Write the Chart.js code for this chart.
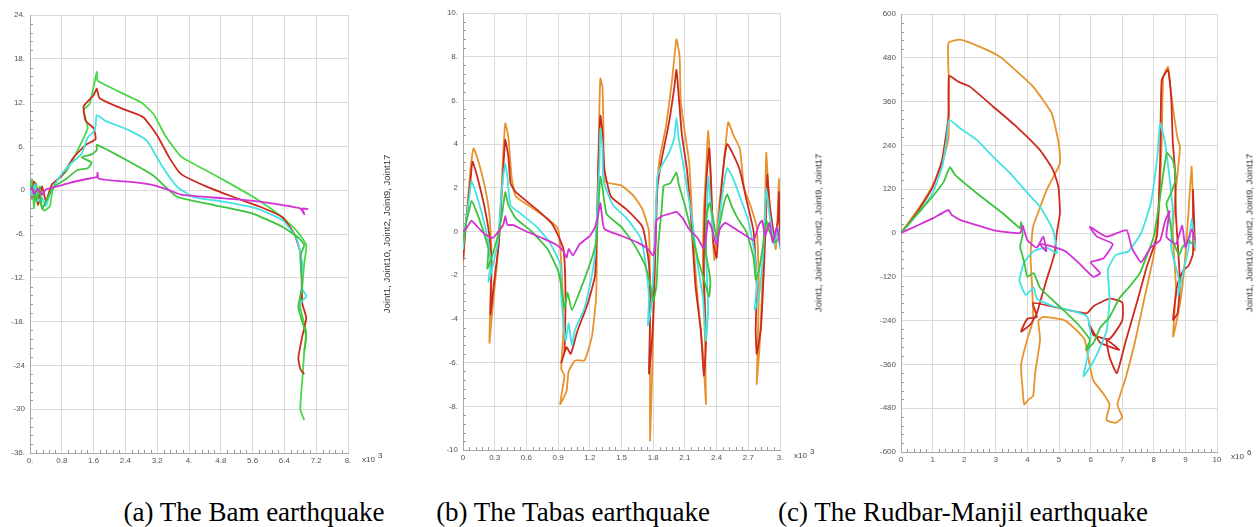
<!DOCTYPE html>
<html>
<head>
<meta charset="utf-8">
<script src="https://cdn.jsdelivr.net/npm/chart.js@4.4.0/dist/chart.umd.min.js"></script>
<style>
body{margin:0;background:#fff;width:1260px;height:527px;overflow:hidden;position:relative;font-family:"Liberation Sans",Arial,sans-serif}
canvas{position:absolute;top:0}
.ytitle{position:absolute;font-size:9.5px;color:#333;white-space:nowrap;transform:translate(-50%,-50%) rotate(-90deg)}
.mult{position:absolute;font-size:8px;color:#444;white-space:nowrap}
.mult sup{position:relative;top:-4px;left:3px;font-size:8px;vertical-align:top}
.cap{position:absolute;top:496px;line-height:32px;font-family:"Liberation Serif","Times New Roman",serif;font-size:27px;color:#000;white-space:nowrap;transform:translateX(-50%)}
</style>
</head>
<body>
<canvas id="bam" width="420" height="475" style="left:0"></canvas>
<canvas id="tabas" width="420" height="475" style="left:420px"></canvas>
<canvas id="rudbar" width="400" height="475" style="left:860px"></canvas>

<div class="ytitle" style="left:386px;top:234px">Joint1, Joint10, Joint2, Joint9, Joint17</div>
<div class="ytitle" style="left:818px;top:233px">Joint1, Joint10, Joint2, Joint9, Joint17</div>
<div class="ytitle" style="left:1249px;top:233px">Joint1, Joint10, Joint2, Joint9, Joint17</div>

<div class="mult" style="left:362px;top:455px">x10<sup>3</sup></div>
<div class="mult" style="left:794px;top:451px">x10<sup>3</sup></div>
<div class="mult" style="left:1231px;top:452px">x10<sup>6</sup></div>

<div class="cap" style="left:254px">(a) The Bam earthquake</div>
<div class="cap" style="left:573px">(b) The Tabas earthquake</div>
<div class="cap" style="left:963px">(c) The Rudbar-Manjil earthquake</div>

<script>
const jointNames = ['Joint1', 'Joint10', 'Joint2', 'Joint9', 'Joint17'];

// (a) Bam
const bamXTicks = [0, 0.8, 1.6, 2.4, 3.2, 4, 4.8, 5.6, 6.4, 7.2, 8];
const bamXLabels = ['0.', '0.8', '1.6', '2.4', '3.2', '4.', '4.8', '5.6', '6.4', '7.2', '8.'];
const bamYTicks = [-36, -30, -24, -18, -12, -6, 0, 6, 12, 18, 24];
const bamYLabels = ['-36.', '-30', '-24', '-18.', '-12.', '-6.', '0', '6.', '12.', '18.', '24.'];

const bamJoint1 = [[0,0],[0.05,1.5],[0.1,-2.5],[0.15,1],[0.25,-1.5],[0.35,-2.8],[0.5,-2.2],[0.55,-0.5],[0.65,1.2],[0.9,2.5],[1.2,5.5],[1.45,8.5],[1.35,11],[1.5,11.8],[1.68,16.2],[1.7,15.0],[2.2,13.6],[2.8,12],[3.1,10.5],[3.4,7.5],[3.8,4.6],[4.4,2.8],[5.0,1.0],[5.7,-1.2],[6.3,-3.5],[6.7,-5.5],[6.95,-7.5],[6.9,-10],[6.85,-13],[6.8,-16],[6.95,-19.5],[6.9,-22],[6.85,-26],[6.8,-30],[6.9,-31.5]];
const bamJoint10 = [[0,0],[0.05,-1],[0.1,1.2],[0.2,-2],[0.3,0.5],[0.4,-1.5],[0.55,0.8],[0.8,2],[1.1,4.5],[1.4,6.2],[1.65,7],[1.6,8.5],[1.4,9.5],[1.35,11.5],[1.6,13],[1.68,13.9],[1.75,12.6],[2.3,11.2],[2.85,10.0],[3.2,7.5],[3.5,4.5],[3.8,2.2],[4.4,0.6],[5.1,-0.9],[5.8,-2.3],[6.35,-3.7],[6.65,-6.0],[6.8,-8.5],[6.83,-11],[6.85,-15.5],[6.95,-17.5],[6.85,-20],[6.75,-23],[6.8,-24.5],[6.9,-25.2]];
const bamJoint2 = [[0,0],[0.05,-0.8],[0.12,0.8],[0.2,-1.5],[0.3,-1],[0.4,-2.2],[0.5,-0.5],[0.7,1.5],[1.0,3.5],[1.3,5],[1.45,7.2],[1.6,8],[1.65,8.8],[1.68,10.3],[1.9,9.5],[2.5,8.2],[2.94,6.8],[3.3,3.5],[3.7,0.5],[4.1,-0.9],[4.9,-1.6],[5.7,-2.5],[6.35,-4.1],[6.7,-6.5],[6.85,-10],[6.85,-13.5],[6.95,-14.5],[6.8,-15.5],[6.75,-16.5]];
const bamJoint9 = [[0,0],[0.05,0.5],[0.15,-1.5],[0.25,0.5],[0.3,-2.5],[0.45,-1],[0.6,0.5],[0.9,1.5],[1.2,2.8],[1.45,3],[1.55,3.8],[1.3,4.5],[1.55,4.9],[1.68,5.5],[1.68,6.2],[2.4,4.2],[3.1,2.0],[3.7,-0.9],[4.6,-2.0],[5.6,-3.2],[6.35,-5.0],[6.75,-6.5],[6.9,-7.5],[6.8,-9],[6.85,-13],[6.75,-16],[6.85,-18],[6.95,-20],[6.9,-22]];
const bamJoint17 = [[0,0],[0.05,0.3],[0.1,-0.5],[0.2,0.2],[0.3,-0.6],[0.4,0.1],[0.6,0.4],[1.0,1.0],[1.4,1.5],[1.68,1.8],[1.7,2.4],[1.72,1.6],[2.1,1.3],[2.6,1.1],[3.1,0.7],[3.5,0],[3.8,-0.6],[4.6,-1.0],[5.5,-1.4],[6.2,-1.9],[6.8,-2.5],[6.9,-3.3],[6.85,-2.5],[7.0,-2.6]];

// (b) Tabas
const tabasXTicks = [0, 0.3, 0.6, 0.9, 1.2, 1.5, 1.8, 2.1, 2.4, 2.7, 3];
const tabasXLabels = ['0', '0.3', '0.6', '0.9', '1.2', '1.5', '1.8', '2.1', '2.4', '2.7', '3.'];
const tabasYTicks = [-10, -8, -6, -4, -2, 0, 2, 4, 6, 8, 10];
const tabasYLabels = ['-10', '-8.', '-6.', '-4', '-2', '0', '2', '4', '6.', '8.', '10.'];

const tabasJoint1 = [[0,-1.5],[0.03,0.5],[0.07,2.8],[0.1,3.8],[0.14,3.3],[0.2,2.2],[0.25,0.8],[0.27,-1],[0.26,-3],[0.25,-5.1],[0.28,-3.5],[0.33,-1],[0.36,1.5],[0.38,3.5],[0.4,4.95],[0.43,4.3],[0.46,2.5],[0.5,1.6],[0.65,1.1],[0.8,0.6],[0.9,0.1],[0.93,-1.5],[0.95,-4.5],[0.93,-6.3],[0.96,-6.6],[0.92,-7.9],[0.98,-7.3],[1.0,-6.4],[1.06,-5.9],[1.15,-5.9],[1.22,-4.8],[1.26,-3],[1.27,0],[1.28,3],[1.29,5.5],[1.30,7.0],[1.32,6.6],[1.33,4.5],[1.34,2.3],[1.5,2.1],[1.62,1.6],[1.7,1.0],[1.76,0],[1.77,-3],[1.77,-6.5],[1.77,-9.6],[1.79,-6.5],[1.80,-4.5],[1.81,-1.5],[1.83,1.5],[1.86,3.3],[1.92,4.8],[1.98,7],[2.02,8.8],[2.05,8.0],[2.06,6],[2.1,4.5],[2.14,3.2],[2.16,1.5],[2.18,-0.5],[2.22,-3],[2.27,-5.5],[2.3,-7.9],[2.29,-5],[2.27,-1.5],[2.28,1],[2.3,2.8],[2.32,4.6],[2.34,3],[2.36,0],[2.38,-1.3],[2.42,1],[2.47,3.2],[2.51,5.0],[2.56,4.4],[2.62,3.8],[2.66,2],[2.72,1.2],[2.78,0.2],[2.8,-2.5],[2.79,-5],[2.78,-7.0],[2.81,-5],[2.84,-1.5],[2.86,1.5],[2.87,3.6],[2.89,2],[2.93,0],[2.96,-0.8],[2.98,1],[2.99,2.4],[3.0,-0.5]];
const tabasJoint10 = [[0,-1.3],[0.03,0.5],[0.07,2.3],[0.09,3.2],[0.13,2.6],[0.2,1.2],[0.25,-0.2],[0.27,-1.5],[0.26,-3.8],[0.29,-2.5],[0.34,-0.5],[0.37,2],[0.39,3.6],[0.4,4.2],[0.43,3.4],[0.45,2.2],[0.5,1.8],[0.7,1.0],[0.85,0.3],[0.95,-0.8],[0.97,-3],[0.96,-5.5],[0.93,-6.0],[0.98,-5.3],[1.02,-5.6],[1.08,-4.6],[1.18,-3.3],[1.25,-2],[1.27,1],[1.28,3],[1.30,5.3],[1.32,4.5],[1.34,2.8],[1.4,1.6],[1.55,1.0],[1.7,0.2],[1.76,-1.5],[1.77,-4],[1.76,-6.5],[1.78,-5.5],[1.80,-4],[1.82,-1],[1.84,2],[1.88,3.3],[1.95,5],[2.0,6.6],[2.02,7.4],[2.04,6.3],[2.07,4.5],[2.12,2.8],[2.16,0.5],[2.2,-2.5],[2.25,-4.5],[2.28,-6.6],[2.3,-5],[2.28,-2],[2.29,1],[2.31,2.8],[2.33,3.8],[2.35,2],[2.37,-0.5],[2.4,-1.2],[2.43,1],[2.47,3.2],[2.5,4.0],[2.55,3.6],[2.62,2.8],[2.68,1.5],[2.75,0],[2.78,-2.5],[2.77,-4.5],[2.78,-5.6],[2.82,-4.4],[2.85,-1.5],[2.87,1],[2.88,2.6],[2.9,1.3],[2.95,-0.3],[2.98,0.5],[2.99,1.8],[3.0,-0.5]];
const tabasJoint2 = [[0,-0.8],[0.03,0.5],[0.06,1.6],[0.08,2.3],[0.12,1.8],[0.18,0.8],[0.24,-0.5],[0.26,-1.5],[0.24,-2.3],[0.27,-1.8],[0.33,-0.5],[0.36,1.5],[0.38,2.5],[0.4,3.1],[0.42,2.5],[0.45,1.2],[0.55,0.8],[0.7,0.2],[0.82,-0.5],[0.92,-1.5],[0.93,-3],[0.97,-5],[1.0,-4.2],[1.03,-5.2],[1.06,-4.5],[1.15,-3.5],[1.22,-2],[1.25,-1],[1.27,1],[1.29,3],[1.3,4.7],[1.32,3.8],[1.33,2.3],[1.42,1.2],[1.55,0.6],[1.68,-0.3],[1.73,-1.5],[1.76,-3],[1.75,-4.3],[1.78,-3.5],[1.8,-2],[1.82,0],[1.84,2.5],[1.88,3.0],[1.95,3.6],[2.0,4.3],[2.02,5.2],[2.04,4.3],[2.08,3.2],[2.12,2.0],[2.17,0.5],[2.22,-1.5],[2.27,-3],[2.3,-5.0],[2.32,-3.5],[2.3,-1],[2.31,1.2],[2.32,2.5],[2.34,1.5],[2.37,-0.2],[2.4,-0.5],[2.43,0.8],[2.47,2.2],[2.5,2.9],[2.55,2.5],[2.62,1.6],[2.7,0.5],[2.76,-1],[2.78,-2.5],[2.76,-3.6],[2.8,-3.0],[2.84,-1],[2.86,0.8],[2.87,2.0],[2.9,0.8],[2.95,-0.6],[2.98,0.2],[3.0,-0.8]];
const tabasJoint9 = [[0,-0.5],[0.03,0.4],[0.06,1.0],[0.08,1.4],[0.12,1.0],[0.18,0.2],[0.24,-0.8],[0.23,-1.7],[0.27,-1.2],[0.33,-0.2],[0.37,0.8],[0.4,1.8],[0.43,1.2],[0.5,0.6],[0.65,0],[0.8,-0.8],[0.9,-1.8],[0.93,-2.5],[0.96,-3.5],[0.99,-2.8],[1.03,-3.6],[1.1,-2.8],[1.2,-1.5],[1.26,-0.5],[1.28,1],[1.3,2.5],[1.32,2.0],[1.36,0.8],[1.5,0.2],[1.62,-0.6],[1.72,-1.5],[1.78,-2.6],[1.8,-3.2],[1.83,-2.5],[1.85,-0.5],[1.88,1.0],[1.9,2.1],[1.96,2.2],[2.02,2.7],[2.04,2.2],[2.1,1.2],[2.16,0],[2.22,-1.2],[2.28,-2.2],[2.33,-3.0],[2.34,-2.2],[2.3,-1],[2.3,0.5],[2.33,1.3],[2.36,0.8],[2.4,-0.3],[2.44,0.6],[2.47,1.3],[2.5,1.7],[2.54,1.2],[2.6,0.6],[2.68,0],[2.75,-1.2],[2.77,-2.2],[2.8,-1.8],[2.84,-0.6],[2.87,0.5],[2.9,0],[2.96,-0.5],[3.0,-0.2]];
const tabasJoint17 = [[0,0],[0.04,0.2],[0.08,0.5],[0.12,0.3],[0.2,-0.1],[0.28,-0.3],[0.32,-0.1],[0.38,0.3],[0.4,0.7],[0.42,0.3],[0.47,0.3],[0.6,0],[0.75,-0.3],[0.88,-0.6],[0.95,-0.9],[0.98,-1.2],[1.0,-0.8],[1.04,-1.1],[1.1,-0.6],[1.2,-0.2],[1.25,0.2],[1.28,0.8],[1.3,1.3],[1.32,0.5],[1.34,0.1],[1.5,-0.2],[1.65,-0.5],[1.75,-0.8],[1.8,-1.1],[1.82,-0.6],[1.83,0.5],[1.88,0.7],[1.95,0.8],[2.02,0.9],[2.08,0.6],[2.14,0.1],[2.22,-0.3],[2.28,-0.8],[2.3,-0.2],[2.32,0.5],[2.35,0.2],[2.4,-0.6],[2.43,0.1],[2.48,0.4],[2.55,0.2],[2.65,-0.1],[2.75,-0.4],[2.8,0.3],[2.83,0.5],[2.86,-0.2],[2.9,0.4],[2.93,-0.5],[2.97,0.2],[3.0,-0.6]];

// (c) Rudbar-Manjil
const rudbarXTicks = [0, 1, 2, 3, 4, 5, 6, 7, 8, 9, 10];
const rudbarXLabels = ['0', '1', '2', '3', '4', '5', '6', '7', '8', '9', '10'];
const rudbarYTicks = [-600, -480, -360, -240, -120, 0, 120, 240, 360, 480, 600];
const rudbarYLabels = ['-600', '-480', '-360', '-240', '-120', '0', '120', '240', '360', '480', '600'];

const rudbarJoint1 = [[0,0],[0.5,60],[1.0,130],[1.3,190],[1.5,260],[1.52,400],[1.5,520],[1.87,530],[2.5,510],[3.13,483],[3.7,440],[4.18,401],[4.77,328],[5.0,240],[5.03,191],[4.8,150],[4.61,118],[4.4,70],[4.18,17],[4.1,-60],[4.15,-150],[4.18,-238],[4.0,-290],[3.8,-360],[3.85,-430],[3.9,-470],[4.05,-455],[4.18,-447],[4.25,-380],[4.4,-293],[4.35,-240],[4.5,-230],[5.2,-240],[5.8,-290],[5.9,-330],[6.08,-403],[6.4,-440],[6.6,-470],[6.5,-512],[6.8,-520],[7.0,-505],[6.85,-470],[7.1,-400],[7.4,-300],[7.7,-180],[8.0,-60],[8.15,50],[8.25,250],[8.3,428],[8.45,455],[8.55,380],[8.75,260],[8.83,236],[8.7,120],[8.6,0],[8.7,-150],[8.61,-284],[8.75,-230],[8.87,-170],[9.0,-60],[9.1,60],[9.2,182],[9.25,50],[9.3,-50]];
const rudbarJoint10 = [[0,0],[0.5,55],[1.0,125],[1.3,200],[1.5,320],[1.52,430],[1.8,415],[2.18,401],[2.92,346],[3.66,291],[4.4,227],[4.81,173],[4.98,127],[5.03,54],[4.93,0],[4.85,-60],[4.6,-130],[4.4,-190],[4.3,-220],[4.1,-250],[3.8,-270],[4.0,-235],[4.3,-230],[4.18,-192],[5.03,-206],[5.88,-220],[6.1,-200],[6.6,-180],[7.0,-190],[7.0,-240],[6.6,-290],[6.1,-280],[5.95,-250],[6.3,-300],[6.9,-320],[6.51,-293],[6.6,-340],[6.83,-384],[7.1,-300],[7.5,-180],[7.78,-92],[8.1,-8],[8.2,200],[8.25,419],[8.45,447],[8.55,374],[8.6,250],[8.67,173],[8.7,50],[8.83,-138],[8.75,-220],[8.61,-238],[8.75,-140],[8.95,-100],[9.1,-90],[9.24,-56],[9.24,118],[9.3,-30]];
const rudbarJoint2 = [[0,0],[0.5,50],[1.0,110],[1.3,180],[1.45,260],[1.52,310],[1.9,285],[2.4,255],[2.9,210],[3.45,164],[4.0,110],[4.4,72],[4.81,8],[4.93,-55],[4.6,-40],[4.2,-50],[3.9,-80],[3.75,-130],[3.95,-170],[4.2,-150],[4.3,-180],[4.8,-200],[5.5,-215],[5.9,-230],[6.0,-280],[5.9,-340],[5.77,-394],[6.1,-350],[6.5,-270],[6.6,-180],[6.55,-100],[6.8,-60],[7.2,-50],[7.6,0],[7.9,80],[8.1,200],[8.2,300],[8.35,250],[8.5,150],[8.6,60],[8.55,-40],[8.8,-130],[8.77,-170],[8.95,-100],[9.1,-40],[9.2,40],[9.3,-40]];
const rudbarJoint9 = [[0,0],[0.5,50],[1.0,100],[1.35,140],[1.55,180],[1.7,160],[2.4,109],[3.22,54],[3.77,13],[3.8,30],[3.85,-5],[3.77,-37],[3.9,-80],[4.0,-120],[4.2,-110],[4.4,-150],[5.0,-200],[5.6,-250],[5.98,-293],[5.85,-320],[6.1,-300],[6.3,-260],[6.6,-230],[6.9,-180],[7.2,-150],[7.56,-110],[8.0,-9],[8.2,100],[8.41,219],[8.6,200],[8.7,150],[8.55,110],[8.4,80],[8.5,40],[8.6,-20],[8.8,-60],[8.9,-40],[9.1,-20],[9.2,-30]];
const rudbarJoint17 = [[0,0],[0.5,20],[1.0,40],[1.5,63],[1.6,50],[1.87,36],[2.92,8],[3.77,0],[3.85,20],[4.0,-20],[4.3,-40],[4.5,-10],[4.6,-50],[4.4,-30],[4.9,-40],[5.2,-50],[5.6,-80],[6.08,-120],[6.3,-110],[6.0,-80],[6.4,-70],[6.7,-30],[6.2,-10],[5.98,17],[6.5,-10],[7.14,8],[7.3,-40],[7.6,-80],[7.9,-40],[8.2,-20],[8.35,30],[8.5,60],[8.4,-10],[8.7,-30],[8.9,20],[9.0,-40],[9.2,10],[9.3,-20]];

const colorsBam = ['#48d848', '#cc2a1e', '#44e2e2', '#3cc43c', '#d431d4'];
const colorsOther = ['#e8922c', '#cc2a1e', '#44e2e2', '#3cc43c', '#d431d4'];

// small minor ticks along the left and bottom axes
const minorTicks = {
	id: 'minorTicks',
	afterDraw(chart) {
		const {ctx, chartArea: a, scales: {x, y}} = chart;
		ctx.save();
		ctx.strokeStyle = '#9a9a9a';
		ctx.lineWidth = 1;
		ctx.beginPath();
		for (let i = 0; i < x.ticks.length - 1; i++) {
			const p0 = x.getPixelForValue(x.ticks[i].value);
			const p1 = x.getPixelForValue(x.ticks[i + 1].value);
			for (let k = 1; k < 5; k++) {
				const p = Math.round(p0 + (p1 - p0) * k / 5) + 0.5;
				ctx.moveTo(p, a.bottom);
				ctx.lineTo(p, a.bottom - 3);
			}
		}
		for (let i = 0; i < y.ticks.length - 1; i++) {
			const p0 = y.getPixelForValue(y.ticks[i].value);
			const p1 = y.getPixelForValue(y.ticks[i + 1].value);
			for (let k = 1; k < 5; k++) {
				const p = Math.round(p0 + (p1 - p0) * k / 5) + 0.5;
				ctx.moveTo(a.left, p);
				ctx.lineTo(a.left + 3, p);
			}
		}
		ctx.stroke();
		ctx.restore();
	}
};

function makePanel(id, series, colors, xTicks, xLabels, yTicks, yLabels, box) {
	const datasets = series.map((pts, i) => ({
		label: jointNames[i],
		data: pts.map(p => ({x: p[0], y: p[1]})),
		showLine: true,
		borderColor: colors[i],
		borderWidth: 1.8,
		pointRadius: 0,
		tension: 0.15,
		fill: false,
		order: 4 - i
	}));
	return new Chart(document.getElementById(id), {
		type: 'scatter',
		data: {datasets},
		options: {
			responsive: false,
			animation: false,
			layout: {padding: {top: box.top, right: box.right, left: 0, bottom: 0}},
			plugins: {legend: {display: false}, tooltip: {enabled: false}},
			scales: {
				x: {
					type: 'linear',
					min: xTicks[0],
					max: xTicks[xTicks.length - 1],
					afterBuildTicks: s => { s.ticks = xTicks.map(v => ({value: v})); },
					afterFit: s => { s.height = box.xh; },
					ticks: {
						callback: (v, i) => xLabels[i],
						autoSkip: false,
						maxRotation: 0,
						padding: 3,
						color: '#555',
						font: {size: 8, family: 'Liberation Sans'}
					},
					grid: {color: '#dadada', drawTicks: false},
					border: {color: '#a8a8a8'}
				},
				y: {
					type: 'linear',
					min: yTicks[0],
					max: yTicks[yTicks.length - 1],
					afterBuildTicks: s => { s.ticks = yTicks.map(v => ({value: v})); },
					afterFit: s => { s.width = box.yw; },
					ticks: {
						callback: (v, i) => yLabels[i],
						autoSkip: false,
						padding: 5,
						color: '#555',
						font: {size: 8, family: 'Liberation Sans'}
					},
					grid: {color: '#dadada', drawTicks: false},
					border: {color: '#a8a8a8'}
				}
			}
		},
		plugins: [minorTicks]
	});
}

makePanel('bam', [bamJoint1, bamJoint10, bamJoint2, bamJoint9, bamJoint17], colorsBam,
	bamXTicks, bamXLabels, bamYTicks, bamYLabels, {top: 15, right: 72, yw: 30, xh: 22});
makePanel('tabas', [tabasJoint1, tabasJoint10, tabasJoint2, tabasJoint9, tabasJoint17], colorsOther,
	tabasXTicks, tabasXLabels, tabasYTicks, tabasYLabels, {top: 13, right: 60, yw: 43, xh: 25});
makePanel('rudbar', [rudbarJoint1, rudbarJoint10, rudbarJoint2, rudbarJoint9, rudbarJoint17], colorsOther,
	rudbarXTicks, rudbarXLabels, rudbarYTicks, rudbarYLabels, {top: 14, right: 43, yw: 41, xh: 23});
</script>
</body>
</html>
